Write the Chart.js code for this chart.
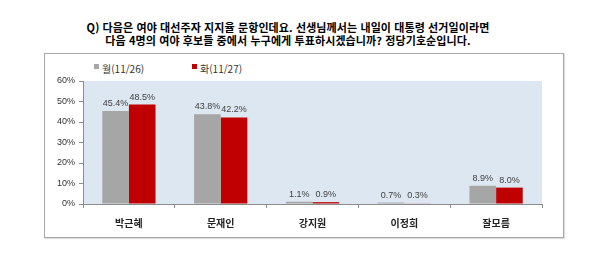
<!DOCTYPE html>
<html lang="ko">
<head>
<meta charset="utf-8">
<script src="https://cdn.jsdelivr.net/npm/chart.js@4/dist/chart.umd.min.js"></script>
<style>
  html, body { margin:0; padding:0; background:#fff; }
  body { width:600px; height:259px; position:relative; overflow:hidden; font-family:"Noto Sans CJK KR", "Noto Sans", sans-serif; }
  .title { position:absolute; left:0; width:576px; top:21px; text-align:center; font-size:11px; font-weight:bold; line-height:13px; color:#000; letter-spacing:0.1px; }
  .box { position:absolute; left:44px; top:53px; width:518px; height:183px; border:1px solid #a8a8a8; box-shadow:1px 1px 1px #ddd; }
  .legend { position:absolute; top:63px; font-size:10px; color:#333; line-height:12px; }
  .legend span.sw { display:inline-block; width:5px; height:5px; margin-right:3px; vertical-align:4px; }
  canvas { position:absolute; left:0; top:0; }
</style>
</head>
<body>
<div class="title">Q) 다음은 여야 대선주자 지지율 문항인데요. 선생님께서는 내일이 대통령 선거일이라면<br>다음 4명의 여야 후보들 중에서 누구에게 투표하시겠습니까? 정당기호순입니다.</div>
<div class="box"></div>
<div id="legend"></div>
<canvas id="chart" width="600" height="259"></canvas>
<script>
// --- Data ---
const categories = ["박근혜", "문재인", "강지원", "이정희", "잘모름"];
const seriesNames = ["월(11/26)", "화(11/27)"];
const monValues = [45.4, 43.8, 1.1, 0.7, 8.9];
const tueValues = [48.5, 42.2, 0.9, 0.3, 8.0];
const yTicks = [0, 10, 20, 30, 40, 50, 60];

const colors = ["#a6a6a6", "#c00000"];
const legendX = [94, 192];

// --- Legend (html) ---
const legendEl = document.getElementById('legend');
seriesNames.forEach((name, i) => {
  const d = document.createElement('div');
  d.className = 'legend';
  d.style.left = legendX[i] + 'px';
  d.innerHTML = `<span class="sw" style="background:${colors[i]}"></span>${name}`;
  legendEl.appendChild(d);
});

// --- Plot background ---
const plotBg = {
  id: 'plotBg',
  beforeDraw(chart) {
    const { ctx, chartArea: a } = chart;
    ctx.save();
    ctx.fillStyle = '#dde7f2';
    ctx.fillRect(a.left, a.top, a.right - a.left, a.bottom - a.top);
    ctx.restore();
  }
};

// --- Value labels above bars ---
const valueLabels = {
  id: 'valueLabels',
  afterDatasetsDraw(chart) {
    const ctx = chart.ctx;
    ctx.save();
    ctx.font = '9px "Liberation Sans", sans-serif';
    ctx.fillStyle = '#404040';
    ctx.textAlign = 'center';
    ctx.textBaseline = 'bottom';
    chart.data.datasets.forEach((ds, i) => {
      chart.getDatasetMeta(i).data.forEach((bar, j) => {
        ctx.fillText(ds.data[j].toFixed(1) + '%', bar.x, bar.y - 3);
      });
    });
    ctx.restore();
  }
};

new Chart(document.getElementById('chart'), {
  type: 'bar',
  data: {
    labels: categories,
    datasets: [
      { label: seriesNames[0], data: monValues, backgroundColor: colors[0] },
      { label: seriesNames[1], data: tueValues, backgroundColor: colors[1] }
    ]
  },
  options: {
    responsive: false,
    animation: false,
    devicePixelRatio: 1,
    categoryPercentage: 0.58,
    barPercentage: 1.0,
    layout: { padding: { left: 45, right: 58, top: 81, bottom: 25 } },
    plugins: { legend: { display: false }, tooltip: { enabled: false }, title: { display: false } },
    scales: {
      x: {
        afterFit: s => { s.height = 30; },
        grid: { display: true, drawOnChartArea: false, offset: true, tickLength: 4, color: '#8c8c8c' },
        border: { color: '#8c8c8c' },
        ticks: { padding: 9, color: '#222', font: { family: '"Noto Sans CJK KR"', size: 10, weight: 'bold' } }
      },
      y: {
        min: 0, max: 60,
        afterFit: s => { s.width = 38; },
        afterBuildTicks: s => { s.ticks = yTicks.map(v => ({ value: v })); },
        grid: { display: true, drawOnChartArea: false, tickLength: 4, color: '#8c8c8c' },
        border: { color: '#8c8c8c' },
        ticks: { padding: 4, color: '#333', font: { family: '"Liberation Sans"', size: 9 }, callback: v => v + '%' }
      }
    }
  },
  plugins: [plotBg, valueLabels]
});
</script>
</body>
</html>
